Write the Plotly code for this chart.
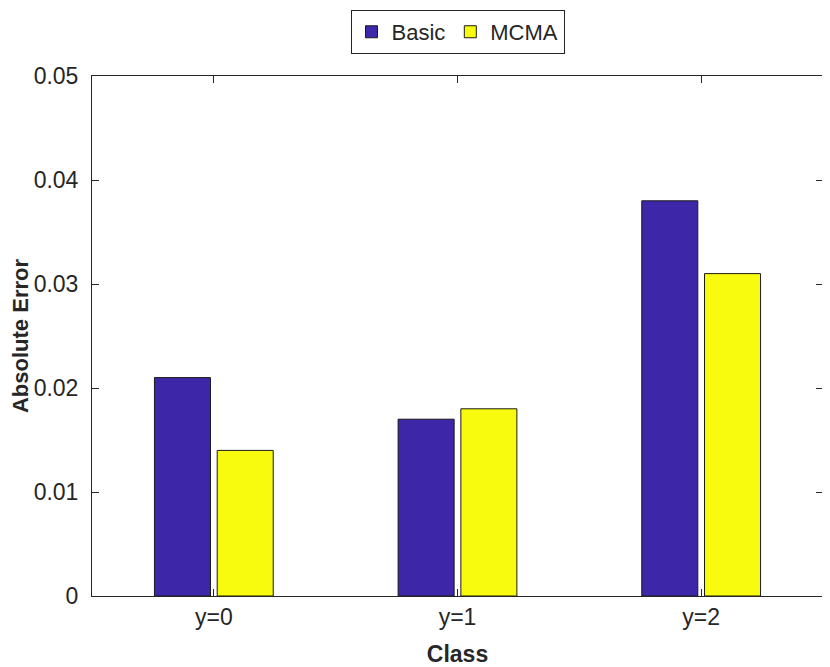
import plotly.graph_objects as go

classes = ["y=0", "y=1", "y=2"]
basic = [0.021, 0.017, 0.038]
mcma = [0.014, 0.018, 0.031]
y_ticks = [0, 0.01, 0.02, 0.03, 0.04, 0.05]
y_tick_text = ["0", "0.01", "0.02", "0.03", "0.04", "0.05"]

axis_col = "#262626"
font = "Liberation Sans, Arial, sans-serif"

fig = go.Figure()
fig.add_trace(go.Bar(x=classes, y=basic, name="Basic",
                     marker=dict(color="#3E26A8", line=dict(color="#1a1a1a", width=1))))
fig.add_trace(go.Bar(x=classes, y=mcma, name="MCMA",
                     marker=dict(color="#F9FB0E", line=dict(color="#1a1a1a", width=1))))

# page body has an 8px margin, so the figure is a bit smaller than the window
fig.update_layout(
    width=822, height=659,
    paper_bgcolor="white", plot_bgcolor="white",
    margin=dict(l=84, r=7, t=68, b=71, autoexpand=False),
    barmode="group", bargap=0.485, bargroupgap=0.107,
    font=dict(family=font, size=23, color=axis_col),
    legend=dict(orientation="h", x=0.5, xanchor="center", y=1.127, yanchor="top",
                bordercolor=axis_col, borderwidth=1, font=dict(size=22),
                itemwidth=30, tracegroupgap=0),
    showlegend=True,
)
fig.update_xaxes(
    range=[-0.5, 2.5], showline=True, linecolor=axis_col, linewidth=1, mirror="ticks",
    ticks="inside", ticklen=7, tickcolor=axis_col, showgrid=False, automargin=False,
    tickfont=dict(size=23),
    title=dict(text="<b>Class</b>", font=dict(size=23), standoff=17),
)
fig.update_yaxes(
    range=[0, 0.05], tickvals=y_ticks, ticktext=y_tick_text,
    showline=True, linecolor=axis_col, linewidth=1, mirror="ticks",
    ticks="inside", ticklen=7, tickcolor=axis_col, showgrid=False, zeroline=False,
    automargin=False, tickfont=dict(size=23), ticklabelstandoff=8,
    title=dict(text="<b>Absolute Error</b>", font=dict(size=22), standoff=1),
)

fig.write_html("out.html")
